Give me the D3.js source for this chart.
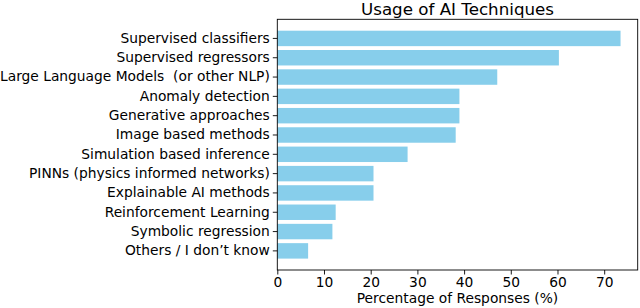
<!DOCTYPE html>
<html>
<head>
<meta charset="utf-8">
<script src="https://cdn.jsdelivr.net/npm/d3@7"></script>
<style>
  body { margin: 0; background: #fff; }
  svg { display: block; font-family: "DejaVu Sans", sans-serif; }
  svg text { white-space: pre; }
</style>
</head>
<body>
<div id="chart"></div>
<script>
// data
let techniques = [
  "Supervised classifiers",
  "Supervised regressors",
  "Large Language Models  (or other NLP)",
  "Anomaly detection",
  "Generative approaches",
  "Image based methods",
  "Simulation based inference",
  "PINNs (physics informed networks)",
  "Explainable AI methods",
  "Reinforcement Learning",
  "Symbolic regression",
  "Others / I don\u2019t know"
]
let percentages = [73.5, 60.3, 47.1, 39.0, 39.0, 38.2, 27.9, 20.6, 20.6, 12.5, 11.8, 6.6]
let xTicks = [0, 10, 20, 30, 40, 50, 60, 70]

let title = "Usage of AI Techniques"
let xLabel = "Percentage of Responses (%)"

let width = 640
let height = 308
let margin = {top: 19.3, right: 2.3, bottom: 38, left: 277.3}

const svg = d3.select("#chart").append("svg")
  .attr("width", width)
  .attr("height", height)

let x = d3.scaleLinear()
  .domain([0, d3.max(percentages) * 1.05])
  .range([margin.left, width - margin.right])

let y = d3.scaleBand()
  .domain(techniques)
  .range([margin.top, height - margin.bottom])
  .paddingInner(0.2)
  .paddingOuter(0.59)

// bars
svg.append("g")
  .selectAll("rect")
  .data(techniques)
  .join("rect")
  .attr("x", x(0))
  .attr("y", d => y(d))
  .attr("width", (d, i) => x(percentages[i]) - x(0))
  .attr("height", y.bandwidth())
  .attr("fill", "#87CEEB")

// axes
let xAxis = svg.append("g")
  .attr("transform", `translate(0,${height - margin.bottom})`)
  .call(d3.axisBottom(x).tickValues(xTicks).tickSize(4.5).tickPadding(3))
xAxis.select(".domain").remove()

let yAxis = svg.append("g")
  .attr("transform", `translate(${margin.left},0)`)
  .call(d3.axisLeft(y).tickSize(4.5).tickPadding(3))
yAxis.select(".domain").remove()

svg.selectAll(".tick text")
  .attr("font-family", "DejaVu Sans, sans-serif")
  .attr("font-size", 13.8)
  .attr("fill", "#000")
svg.selectAll(".tick line").attr("stroke", "#000").attr("stroke-width", 0.9)

// frame
svg.append("rect")
  .attr("x", margin.left)
  .attr("y", margin.top)
  .attr("width", width - margin.right - margin.left)
  .attr("height", height - margin.bottom - margin.top)
  .attr("fill", "none")
  .attr("stroke", "#000")
  .attr("stroke-width", 0.9)

// title + x label
svg.append("text")
  .attr("x", (margin.left + width - margin.right) / 2)
  .attr("y", 15)
  .attr("text-anchor", "middle")
  .attr("font-size", 16.7)
  .text(title)

svg.append("text")
  .attr("x", (margin.left + width - margin.right) / 2)
  .attr("y", 303)
  .attr("text-anchor", "middle")
  .attr("font-size", 13.8)
  .text(xLabel)
</script>
</body>
</html>
